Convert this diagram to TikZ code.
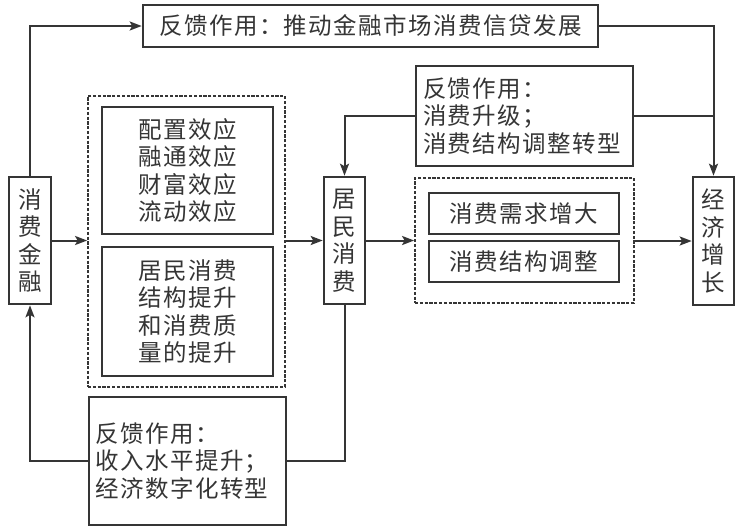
\documentclass[tikz,border=0pt]{standalone}
\usepackage{fontspec}
\newfontfamily\cjk[LetterSpace=6]{Noto Sans CJK SC}
\usetikzlibrary{arrows.meta}
\definecolor{ink}{HTML}{353535}
\begin{document}
\begin{tikzpicture}[x=1pt,y=-1pt,
  box/.style={draw=ink,line width=2.6pt,inner sep=0pt,text=ink,
    font=\cjk\fontsize{23.5}{27.5}\selectfont,align=center},
  dbox/.style={draw=ink,line width=1.8pt,dash pattern=on 3.2pt off 1.6pt,inner sep=0pt},
  conn/.style={draw=ink,line width=2pt},
  arr/.style={conn,-{Stealth[length=12pt,width=9pt,inset=2.5pt]}}]
\useasboundingbox[fill=white] (0,0) rectangle (738,528);
% nodes
\node[box,minimum width=455pt,minimum height=42pt] (top) at (370.5,26) {反馈作用：推动金融市场消费信贷发展};
\node[box,minimum width=42pt,minimum height=127pt] (jr) at (30,240.5) {消\\费\\金\\融};
\node[dbox,minimum width=197pt,minimum height=291pt] (dl) at (186.5,241.5) {};
\node[box,minimum width=171pt,minimum height=127pt] (e1) at (187.5,170.5) {配置效应\\融通效应\\财富效应\\流动效应};
\node[box,minimum width=171pt,minimum height=129pt] (e2) at (187.5,311.5) {居民消费\\结构提升\\和消费质\\量的提升};
\node[box,minimum width=41pt,minimum height=127pt] (jm) at (344.5,240.5) {居\\民\\消\\费};
\node[box,minimum width=217pt,minimum height=100pt,align=left,text width=203pt] (fm) at (524.5,116) {反馈作用：\\消费升级；\\消费结构调整转型};
\node[dbox,minimum width=219pt,minimum height=125pt] (dr) at (524.5,240.5) {};
\node[box,minimum width=190pt,minimum height=41pt] (r1) at (524,213.5) {消费需求增大};
\node[box,minimum width=190pt,minimum height=41pt] (r2) at (524,261.5) {消费结构调整};
\node[box,minimum width=41pt,minimum height=128pt] (jj) at (713.5,241) {经\\济\\增\\长};
\node[box,minimum width=197pt,minimum height=128pt,align=left,text width=184pt] (fb) at (187.5,461) {反馈作用：\\收入水平提升；\\经济数字化转型};
% connectors
\draw[arr] (jr.north) |- (top.west);
\draw[arr] (top.east) -| (jj.north);
\draw[conn] (fm.east) -- (fm.east -| jj.north);
\draw[arr] (fm.west) -| (jm.north);
\draw[arr] (jr.east) -- (jr.east -| dl.west);
\draw[arr] (dl.east |- jm.west) -- (jm.west);
\draw[arr] (jm.east) -- (jm.east -| dr.west);
\draw[arr] (dr.east |- jj.west) -- (jj.west);
\draw[arr] (fb.west) -| (jr.south);
\draw[conn] (fb.east) -| (jm.south);
\end{tikzpicture}
\end{document}
